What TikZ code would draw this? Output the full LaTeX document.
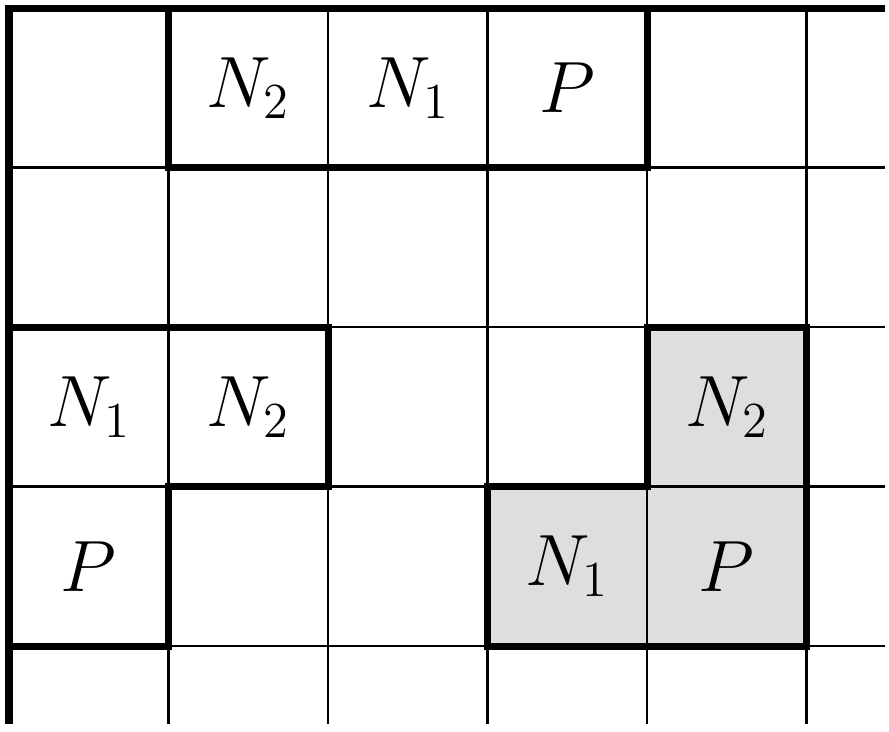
\documentclass[tikz,border=0pt]{standalone}
\definecolor{cellgray}{RGB}{222,222,222}
\begin{document}
\begin{tikzpicture}[x=1.6cm,y=1.6cm,
  thin grid/.style={line width=0.6pt,black},
  thick border/.style={line width=2pt,black,line join=miter},
  lbl/.style={font=\fontsize{22}{26}\selectfont,inner sep=0pt}]
\useasboundingbox (-0.0564,0.0502) rectangle (5.517,-4.533);
% gray region
\fill[cellgray] (4,-2) -- (5,-2) -- (5,-4) -- (3,-4) -- (3,-3) -- (4,-3) -- cycle;
% thin grid
\foreach \x in {1,...,5} \draw[thin grid] (\x,0) -- (\x,-4.49);
\foreach \y in {1,...,4} \draw[thin grid] (0,-\y) -- (5.495,-\y);
% thick outer border
\draw[thick border] (0,-4.49) -- (0,0) -- (5.495,0);
% thick outlines
\draw[thick border] (1,0) rectangle (4,-1);
\draw[thick border] (0,-2) -- (2,-2) -- (2,-3) -- (1,-3) -- (1,-4) -- (0,-4) -- cycle;
\draw[thick border] (4,-2) -- (5,-2) -- (5,-4) -- (3,-4) -- (3,-3) -- (4,-3) -- cycle;
% labels
\node[lbl] (a1) at (1.5,-0.5) {$N_2$};
\node[lbl] (a2) at (2.5,-0.5) {$N_1$};
\node[lbl] (a3) at (3.5,-0.5) {$P$};
\node[lbl] (b1) at (0.5,-2.5) {$N_1$};
\node[lbl] (b2) at (1.5,-2.5) {$N_2$};
\node[lbl] (b3) at (0.5,-3.5) {$P$};
\node[lbl] (c1) at (4.5,-2.5) {$N_2$};
\node[lbl] (c2) at (3.5,-3.5) {$N_1$};
\node[lbl] (c3) at (4.5,-3.5) {$P$};
\end{tikzpicture}
\end{document}
